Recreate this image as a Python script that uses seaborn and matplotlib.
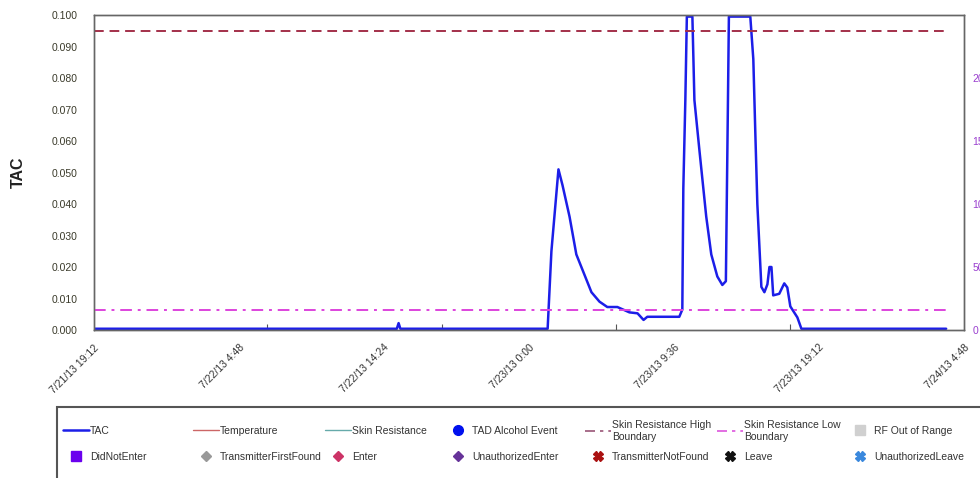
import pandas as pd
import seaborn as sns
import matplotlib.pyplot as plt
from matplotlib.lines import Line2D
from matplotlib.patches import Rectangle

# TAC readings
tac_times = [
    '2013-07-21 19:12', '2013-07-22 15:15', '2013-07-22 15:22', '2013-07-22 15:29',
    '2013-07-23 01:14', '2013-07-23 01:29', '2013-07-23 01:57', '2013-07-23 02:13',
    '2013-07-23 02:41', '2013-07-23 03:08', '2013-07-23 03:48', '2013-07-23 04:08',
    '2013-07-23 04:40', '2013-07-23 05:11', '2013-07-23 05:51', '2013-07-23 06:39',
    '2013-07-23 07:11', '2013-07-23 07:35', '2013-07-23 07:50', '2013-07-23 09:57',
    '2013-07-23 10:09', '2013-07-23 10:13', '2013-07-23 10:21', '2013-07-23 10:27',
    '2013-07-23 10:49', '2013-07-23 10:57', '2013-07-23 11:17', '2013-07-23 11:44',
    '2013-07-23 12:04', '2013-07-23 12:28', '2013-07-23 12:48', '2013-07-23 13:02',
    '2013-07-23 13:06', '2013-07-23 13:10', '2013-07-23 13:14', '2013-07-23 14:39',
    '2013-07-23 14:51', '2013-07-23 14:59', '2013-07-23 15:07', '2013-07-23 15:23',
    '2013-07-23 15:35', '2013-07-23 15:47', '2013-07-23 15:55', '2013-07-23 16:03',
    '2013-07-23 16:10', '2013-07-23 16:34', '2013-07-23 16:46', '2013-07-23 16:54',
    '2013-07-23 17:06', '2013-07-23 17:18', '2013-07-23 17:34', '2013-07-23 17:46',
    '2013-07-23 18:02', '2013-07-24 03:37',
]
tac_values = [
    0.0004, 0.0004, 0.0022, 0.0004,
    0.0004, 0.025, 0.051, 0.046,
    0.036, 0.024, 0.016, 0.012,
    0.009, 0.0073, 0.0073, 0.0056,
    0.0053, 0.0032, 0.0042, 0.0042,
    0.0065, 0.045, 0.073, 0.0995,
    0.0995, 0.073, 0.057, 0.036,
    0.024, 0.017, 0.0143, 0.0155,
    0.0435, 0.071, 0.0995, 0.0995,
    0.086, 0.0625, 0.040, 0.0137,
    0.012, 0.0145, 0.020, 0.020,
    0.011, 0.0115, 0.0135, 0.0148,
    0.0135, 0.0075, 0.0055, 0.004,
    0.0004, 0.0004,
]

# skin resistance boundaries (right axis)
boundary_times = ['2013-07-21 19:12', '2013-07-24 03:37']
high_boundary = [237, 237]
low_boundary = [16, 16]

left_ticks = [0.0, 0.01, 0.02, 0.03, 0.04, 0.05, 0.06, 0.07, 0.08, 0.09, 0.10]
right_ticks = [0, 50, 100, 150, 200]
minor_tick_times = ['2013-07-22 06:38', '2013-07-22 18:13', '2013-07-23 05:47', '2013-07-23 17:18']

legend_labels = [
    'TAC', 'DidNotEnter',
    'Temperature', 'TransmitterFirstFound',
    'Skin Resistance', 'Enter',
    'TAD Alcohol Event', 'UnauthorizedEnter',
    'Skin Resistance High\nBoundary', 'TransmitterNotFound',
    'Skin Resistance Low\nBoundary', 'Leave',
    'RF Out of Range', 'UnauthorizedLeave',
]

sns.set_theme(style="white")
plt.rcParams['font.family'] = ['Liberation Sans', 'DejaVu Sans']

df = pd.DataFrame({'time': pd.to_datetime(tac_times), 'TAC': tac_values})
bounds = pd.DataFrame({'time': pd.to_datetime(boundary_times),
                       'high': high_boundary, 'low': low_boundary})

fig = plt.figure(figsize=(9.8, 4.78), dpi=100)
ax = fig.add_axes([0.0959, 0.3096, 0.8878, 0.659])

sns.lineplot(data=df, x='time', y='TAC', ax=ax, color='#1c1ee8', lw=1.8,
             estimator=None, sort=False)

ax2 = ax.twinx()
sns.lineplot(data=bounds, x='time', y='high', ax=ax2, color='#a3304a', lw=1.4,
             linestyle=(0, (5, 3)))
sns.lineplot(data=bounds, x='time', y='low', ax=ax2, color='#dd44dd', lw=1.4,
             linestyle=(0, (6, 3, 1.5, 3)))

start = pd.Timestamp('2013-07-21 19:12')
end = pd.Timestamp('2013-07-24 04:48')
xticks = pd.date_range(start, end, freq='576min')
ax.set_xlim(start, end)
ax.set_xticks(xticks)
ax.set_xticklabels([f"{d.month}/{d.day}/{d:%y} {d.hour}:{d:%M}" for d in xticks],
                   rotation=45, ha='right', rotation_mode='anchor',
                   fontsize=7.5, color='#333333')
ax.set_xticks(pd.to_datetime(minor_tick_times), minor=True)
ax.tick_params(axis='x', which='major', length=0, pad=9)
ax.tick_params(axis='x', which='minor', direction='in', length=4, width=0.8,
               color='#555555', bottom=True)

ax.set_ylim(0, 0.1)
ax.set_yticks(left_ticks)
ax.set_yticklabels([f"{v:.3f}" for v in left_ticks], fontsize=7.5, color='#3a3a2a')
ax.tick_params(axis='y', length=0, pad=12)
ax.set_xlabel('')
ax.set_ylabel('TAC', fontsize=11.5, fontweight='bold', labelpad=18, color='#222222')

ax2.set_ylim(0, 250)
ax2.set_yticks(right_ticks)
ax2.set_yticklabels([str(v) for v in right_ticks], fontsize=7.5, color='#9a3fcf')
ax2.tick_params(axis='y', length=0, pad=6)
ax2.set_ylabel('')
ax2.set_xlabel('')

for a in (ax, ax2):
    for s in a.spines.values():
        s.set_color('#666666')
        s.set_linewidth(1.0)

# legend box running off the page
fig.patches.append(Rectangle((57 / 980, -0.1), 1.0, 0.1 + (478 - 407) / 478,
                             transform=fig.transFigure, fill=False,
                             edgecolor='#555555', linewidth=1.5))

legend_handles = [
    Line2D([], [], color='#1c1ee8', lw=1.8),
    Line2D([], [], ls='', marker='s', ms=7, color='#6a00ee'),
    Line2D([], [], color='#cc6666', lw=1.0),
    Line2D([], [], ls='', marker='D', ms=5, color='#999999'),
    Line2D([], [], color='#66aaaa', lw=1.0),
    Line2D([], [], ls='', marker='D', ms=5, color='#cc3366'),
    Line2D([], [], ls='', marker='o', ms=7, color='#0010ee'),
    Line2D([], [], ls='', marker='D', ms=5, color='#663399'),
    Line2D([], [], color='#995577', lw=1.2, ls=(0, (6, 3, 2, 3))),
    Line2D([], [], ls='', marker='X', ms=7, color='#aa1111'),
    Line2D([], [], color='#dd55dd', lw=1.2, ls=(0, (6, 3, 2, 3))),
    Line2D([], [], ls='', marker='X', ms=7, color='#111111'),
    Line2D([], [], ls='', marker='s', ms=7, color='#d0d0d0'),
    Line2D([], [], ls='', marker='X', ms=7, color='#3a88dd'),
]
col_x = [63, 193, 325, 445, 585, 717, 847]
row_y = [431, 457]
for i, (h, lab) in enumerate(zip(legend_handles, legend_labels)):
    c, r = divmod(i, 2)
    fig.legend(handles=[h], labels=[lab], loc='center left',
               bbox_to_anchor=(col_x[c] / 980, 1 - row_y[r] / 478),
               frameon=False, fontsize=7.5, handlelength=2.5, handletextpad=0.1,
               borderpad=0, borderaxespad=0, labelcolor='#333333')

fig.savefig('out.png', dpi=100)
